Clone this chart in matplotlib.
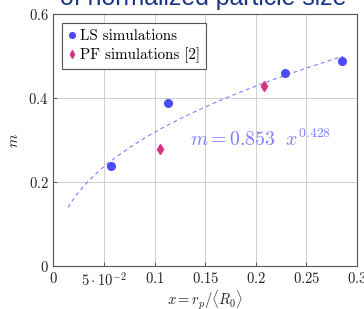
import numpy as np
import matplotlib
matplotlib.use("Agg")
import matplotlib.pyplot as plt

plt.rcParams['mathtext.fontset'] = 'cm'
plt.rcParams['font.family'] = ['serif']
plt.rcParams['font.serif'] = ['cmr10', 'DejaVu Serif']
plt.rcParams['axes.unicode_minus'] = False

# data
ls_x = [0.057, 0.113, 0.229, 0.285]
ls_m = [0.238, 0.388, 0.460, 0.489]
pf_x = [0.105, 0.208]
pf_m = [0.279, 0.429]
fit_a = 0.853
fit_b = 0.428
fit_range = [0.0145, 0.286]
xticks = [0, 0.05, 0.1, 0.15, 0.2, 0.25, 0.3]
xtick_labels = ['$0$', r'$5\cdot10^{-2}$', '$0.1$', '$0.15$', '$0.2$', '$0.25$', '$0.3$']
yticks = [0, 0.2, 0.4, 0.6]
ytick_labels = ['$0$', '$0.2$', '$0.4$', '$0.6$']

blue = '#4a4aff'
pink = '#d9307f'
fitc = '#7f7fff'

fig = plt.figure(figsize=(3.64, 3.09), dpi=100)
ax = fig.add_axes([53.4/364, 1-266/309, (357-53.4)/364, (266-14)/309])

xf = np.linspace(fit_range[0], fit_range[1], 200)
ax.plot(xf, fit_a*xf**fit_b, ls=(0, (3.5, 3)), color=fitc, lw=0.8, zorder=2)
ax.plot(ls_x, ls_m, 'o', color=blue, ms=5.5, mec=blue, label='LS simulations', zorder=3)
ax.plot(pf_x, pf_m, 'd', color=pink, ms=5, mec=pink, label='PF simulations [2]', zorder=3)

ax.text(0.135, 0.286, r'$m = 0.853\ \ x^{0.428}$', color=fitc, fontsize=14.2)

ax.set_xlim(0, 0.3)
ax.set_ylim(0, 0.6)
ax.set_xticks(xticks)
ax.set_xticklabels(xtick_labels)
ax.set_yticks(yticks)
ax.set_yticklabels(ytick_labels)
ax.tick_params(direction='in', length=3, labelsize=10.5, colors='#444444', labelcolor='#222222', width=0.6)
ax.grid(True, color='#d0d0d0', lw=0.7)
ax.set_axisbelow(True)
for s in ax.spines.values():
    s.set_color('#555555')
    s.set_linewidth(0.8)

ax.set_xlabel(r'$x = r_p/\langle R_0\rangle$', fontsize=10.5, color='#222222', labelpad=0)
ax.set_ylabel(r'$m$', fontsize=11, color='#222222', labelpad=5)

leg = ax.legend(loc='upper left', bbox_to_anchor=(0.028, 0.964), borderaxespad=0,
                fancybox=False, edgecolor='#555555', framealpha=1, fontsize=10.8,
                handlelength=0.6, handletextpad=0.2, borderpad=0.4, labelspacing=0.3,
                markerscale=0.75)
leg.get_frame().set_linewidth(0.8)

fig.text(203/364, 1-4.5/309, 'of normalized particle size', fontsize=17.9,
         family='Liberation Sans', color='#1c3585', ha='center', va='baseline')

fig.savefig('out.png', dpi=100)
